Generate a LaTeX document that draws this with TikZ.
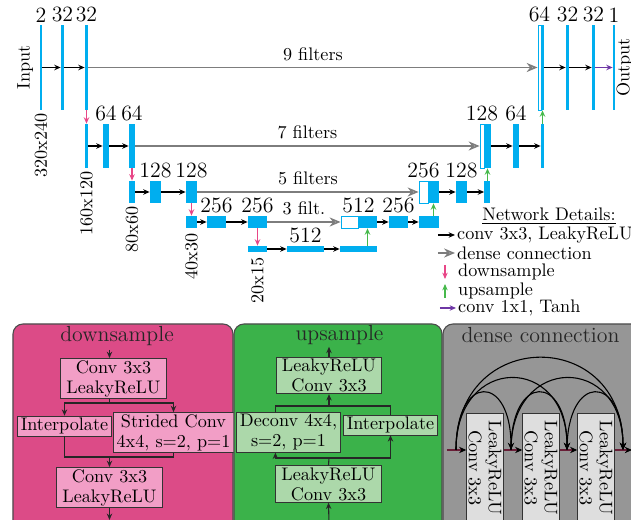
\documentclass[tikz,border=0pt]{standalone}
\usetikzlibrary{arrows.meta}

\definecolor{barblue}{RGB}{0,174,239}
\definecolor{dsred}{RGB}{232,70,135}
\definecolor{usgreen}{RGB}{70,185,75}
\definecolor{tanhpurple}{RGB}{110,55,165}
\definecolor{densegray}{RGB}{125,125,125}
\definecolor{dspanel}{RGB}{220,75,135}
\definecolor{dsfill}{RGB}{242,158,198}
\definecolor{uspanel}{RGB}{59,178,74}
\definecolor{usfill}{RGB}{172,216,170}
\definecolor{dcpanel}{RGB}{150,150,150}
\definecolor{dcfill}{RGB}{222,222,222}
\definecolor{dcline}{RGB}{105,30,55}

\newlength\px
\setlength\px{0.55pt}

\tikzset{
  bar/.style 2 args={fill=barblue, inner sep=0pt, minimum width=#1\px, minimum height=#2\px},
  catbar/.style 2 args={bar={#1}{#2}, fill=white, draw=barblue, line width=0.5pt},
  num/.style={font=\large, inner sep=1pt},
  res/.style={rotate=90, anchor=east, inner sep=1.5pt},
  conv/.style={line width=0.6pt, -{Stealth[length=3.5pt,width=3pt]}},
  dense/.style={line width=0.8pt, densegray, -{Stealth[length=6pt,width=5pt,fill=densegray!50]}},
  down/.style={line width=0.6pt, dsred, -{Stealth[length=3.5pt,width=3pt]}},
  up/.style={line width=0.6pt, usgreen, -{Stealth[length=3.5pt,width=3pt]}},
  tanh/.style={line width=0.6pt, tanhpurple, -{Stealth[length=3.5pt,width=3pt]}},
  filt/.style={midway, above, text=black},
  panel/.style={draw=black!70, line width=0.6pt, rounded corners=5.5pt},
  ptitle/.style={font=\large, text=black!85},
  blk/.style={align=center, inner xsep=2pt, inner ysep=1pt, font=\fontsize{10pt}{11pt}\selectfont},
  wide/.style={minimum width=58pt},
  dsblk/.style={blk, draw=black!80, fill=dsfill},
  usblk/.style={blk, draw=black!80, fill=usfill},
  dcblk/.style={blk, draw=black!80, fill=dcfill, rotate=-90, minimum width=60pt, minimum height=20pt},
  link/.style={line width=0.6pt, draw=black!85},
  linkto/.style={link, -{Stealth[length=3.5pt,width=3pt]}},
  dcl/.style={line width=0.6pt, dcline, -{Stealth[length=4pt,width=3.5pt,color=black]}},
  arc/.style={line width=0.6pt, -{Stealth[length=4pt,width=3.5pt]}}
}

\begin{document}
\begin{tikzpicture}[x=0.55pt, y=-0.55pt]
  \useasboundingbox (0,0) rectangle (631,520);

  % level 1
  \node[bar={2}{85}, label={[num]above:2}] (in) at (41,67.5) {};
  \node[bar={3}{85}, label={[num]above:32}] (c1a) at (62.5,67.5) {};
  \node[bar={3}{85}, label={[num]above:32}] (c1b) at (86.5,67.5) {};
  \node[catbar={3}{85}] (u1o) at (539.5,67.5) {};
  \node[bar={3}{85}] (u1b) at (542.5,67.5) {};
  \node[bar={3}{85}, label={[num]above:32}] (u1c) at (567.5,67.5) {};
  \node[bar={3}{85}, label={[num]above:32}] (u1d) at (593.5,67.5) {};
  \node[bar={2}{85}, label={[num]above:1}] (out) at (614,67.5) {};
  \node[num, above] (t1) at (u1o.north) {64};
  \node[rotate=90, anchor=south] (inlbl) at (in.west) {Input};
  \node[rotate=90, anchor=north, inner sep=0.5pt] (outlbl) at (out.east) {Output};

  % level 2
  \node[bar={3}{44}] (d2a) at (86.5,146) {};
  \node[bar={6}{44}, label={[num]above:64}] (d2b) at (106,146) {};
  \node[bar={6}{44}, label={[num]above:64}] (d2c) at (132,146) {};
  \node[catbar={4}{44}] (u2o) at (482,146) {};
  \node[bar={7}{44}] (u2b) at (487.5,146) {};
  \node[bar={6}{44}, label={[num]above:64}] (u2c) at (516,146) {};
  \node[bar={3}{44}] (u2d) at (542.5,146) {};
  \node[num, above] (t2) at (u2o.north) {128};

  % level 3
  \node[bar={6}{22}] (d3a) at (132,192) {};
  \node[bar={11}{22}, label={[num]above:128}] (d3b) at (155.5,192) {};
  \node[bar={11}{22}, label={[num]above:128}] (d3c) at (191.5,192) {};
  \node[catbar={9}{22}] (u3o) at (423.5,192) {};
  \node[bar={11}{22}] (u3b) at (433.5,192) {};
  \node[bar={11}{22}, label={[num]above:128}] (u3c) at (461.5,192) {};
  \node[bar={6}{22}] (u3d) at (487.5,192) {};
  \node[num, above] (t3) at (u3o.north) {256};

  % level 4
  \node[bar={11}{12}] (d4a) at (191.5,222) {};
  \node[bar={19}{12}, label={[num]above:256}] (d4b) at (216.5,222) {};
  \node[bar={19}{12}, label={[num]above:256}] (d4c) at (257.5,222) {};
  \node[catbar={17}{12}] (u4o) at (349.5,222) {};
  \node[bar={19}{12}] (u4b) at (367.5,222) {};
  \node[bar={19}{12}, label={[num]above:256}] (u4c) at (398.5,222) {};
  \node[bar={20}{12}] (u4d) at (429,222) {};
  \node[num, above] (t4) at (u4o.north east) {512};

  % level 5
  \node[bar={19}{6}] (d5a) at (257.5,249) {};
  \node[bar={37}{6}, label={[num]above:512}] (d5b) at (305.5,249) {};
  \node[bar={37}{6}] (u5) at (358.5,249) {};

  % resolutions
  \node[res] (r1) at (in.south) {320x240};
  \node[res] (r2) at (d2a.south) {160x120};
  \node[res] (r3) at (d3a.south) {80x60};
  \node[res, inner sep=2.5pt] (r4) at (d4a.south) {40x30};
  \node[res, inner sep=2.5pt] (r5) at (d5a.south) {20x15};

  % arrows
  \draw[conv] (in) -- (c1a);
  \draw[conv] (c1a) -- (c1b);
  \draw[dense] (c1b) -- (u1o) node[filt] (f1) {9 filters};
  \draw[conv] (u1b) -- (u1c);
  \draw[conv] (u1c) -- (u1d);
  \draw[tanh] (u1d) -- (out);

  \draw[down] (c1b) -- (d2a);
  \draw[conv] (d2a) -- (d2b);
  \draw[conv] (d2b) -- (d2c);
  \draw[dense] (d2c) -- (u2o) node[filt] (f2) {7 filters};
  \draw[conv] (u2b) -- (u2c);
  \draw[conv] (u2c) -- (u2d);
  \draw[up] (u2d) -- (u1b);

  \draw[down] (d2c) -- (d3a);
  \draw[conv] (d3a) -- (d3b);
  \draw[conv] (d3b) -- (d3c);
  \draw[dense] (d3c) -- (u3o) node[filt] (f3) {5 filters};
  \draw[conv] (u3b) -- (u3c);
  \draw[conv] (u3c) -- (u3d);
  \draw[up] (u3d) -- (u2b);

  \draw[down] (d3c) -- (d4a);
  \draw[conv] (d4a) -- (d4b);
  \draw[conv] (d4b) -- (d4c);
  \draw[dense] (d4c) -- (u4o) node[filt] (f4) {3 filt.};
  \draw[conv] (u4b) -- (u4c);
  \draw[conv] (u4c) -- (u4d);
  \draw[up] (u4d.north -| u3b.south) -- (u3b.south);

  \draw[down] (d4c) -- (d5a);
  \draw[conv] (d5a) -- (d5b);
  \draw[conv] (d5b) -- (u5);
  \draw[up] (u5.north -| u4b.south) -- (u4b.south);

  % legend
  \node (lg0) at (549,216) {\underline{Network Details:}};
  \node[anchor=west, inner sep=1pt] (lg1) at (455,235) {conv 3x3, LeakyReLU};
  \node[anchor=west, inner sep=1pt] (lg2) at (455,253) {dense connection};
  \node[anchor=west, inner sep=1pt] (lg3) at (456,272) {downsample};
  \node[anchor=west, inner sep=1pt] (lg4) at (456,291) {upsample};
  \node[anchor=west, inner sep=1pt] (lg5) at (456,308) {conv 1x1, Tanh};
  \draw[conv] (lg1.west) ++(-17,0) -- (lg1.west);
  \draw[dense] (lg2.west) ++(-17,0) -- (lg2.west);
  \draw[down] (lg3.west) ++(-11,-7) -- ++(0,14);
  \draw[up] (lg4.west) ++(-11,7) -- ++(0,-14);
  \draw[tanh] (lg5.west) ++(-16,0) -- (lg5.west);

  % downsample panel
  \draw[panel, fill=dspanel] (13,324) rectangle (233,540);
  \node[ptitle] (dstitle) at (117,336) {downsample};
  \node[dsblk, wide] (ds1) at (113.5,378.5) {Conv 3x3\\LeakyReLU};
  \node[dsblk] (ds2) at (64.5,426) {Interpolate};
  \node[dsblk] (ds3) at (173.5,432.5) {Strided Conv\\4x4, s=2, p=1};
  \node[dsblk, wide] (ds4) at (109.5,487.5) {Conv 3x3\\LeakyReLU};
  \coordinate (dsa) at (109.5,350);
  \coordinate (dsb) at (109.5,403);
  \coordinate (dsc) at (109.5,457);
  \draw[linkto] (dsa) -- (dsa |- ds1.north);
  \draw[link] (dsb |- ds1.south) -- (dsb);
  \draw[linkto] (dsb) -| (ds2.north);
  \draw[linkto] (dsb) -| (ds3.north);
  \draw[link] (ds2.south) |- (dsc);
  \draw[link] (ds3.south) |- (dsc);
  \draw[linkto] (dsc) -- (ds4.north);
  \draw[linkto] (ds4.south) -- ++(0,12);

  % upsample panel
  \draw[panel, fill=uspanel] (234,324) rectangle (442,540);
  \node[ptitle] (ustitle) at (339.5,335) {upsample};
  \node[usblk, wide] (us1) at (329,375.5) {LeakyReLU\\Conv 3x3};
  \node[usblk] (us2) at (288.5,432.5) {Deconv 4x4,\\s=2, p=1};
  \node[usblk] (us3) at (390.5,425) {Interpolate};
  \node[usblk, wide] (us4) at (328.5,484) {LeakyReLU\\Conv 3x3};
  \coordinate (usa) at (329,406);
  \coordinate (usb) at (329,458);
  \coordinate (usc) at (329,522);
  \draw[linkto] (us1.north) -- ++(0,-10);
  \draw[link] (us2.north -| us1.west) |- (us3.north |- usa) -- (us3.north);
  \draw[linkto] (usa) -- (us1.south);
  \draw[link] (us4.north) -- (usb);
  \draw[linkto] (usb) -| (us2.south -| us4.west);
  \draw[linkto] (usb) -| (us3.south);
  \draw[linkto] (usc) -- (us4.south);

  % dense connection panel
  \draw[panel, fill=dcpanel] (443,324) rectangle (650,540);
  \node[ptitle] (dctitle) at (540.5,335) {dense connection};
  \node[dcblk] (dc1) at (485,468) {LeakyReLU\\Conv 3x3};
  \node[dcblk] (dc2) at (541,468) {LeakyReLU\\Conv 3x3};
  \node[dcblk] (dc3) at (596,468) {LeakyReLU\\Conv 3x3};
  \coordinate (dcin) at (447,450);
  \coordinate (dcout) at (632,450);
  \coordinate (dca) at (456,450);
  \coordinate (dcb) at (511,450);
  \coordinate (dcc) at (567,450);
  \coordinate (dcd) at (623,450);
  \draw[dcl] (dcin) -- (dcin -| dc1.south);
  \draw[dcl] (dcin -| dc1.north) -- (dcin -| dc2.south);
  \draw[dcl] (dcin -| dc2.north) -- (dcin -| dc3.south);
  \draw[dcl] (dcin -| dc3.north) -- (dcout);
  \draw[arc] (dca) .. controls +(0,-77) and +(0,-77) .. (dcb);
  \draw[arc] (dca) .. controls +(0,-96) and +(0,-96) .. (dcc);
  \draw[arc] (dca) .. controls +(0,-123) and +(0,-123) .. (dcd);
  \draw[arc] (dcb) .. controls +(0,-77) and +(0,-77) .. (dcc);
  \draw[arc] (dcb) .. controls +(0,-96) and +(0,-96) .. (dcd);
  \draw[arc] (dcc) .. controls +(0,-77) and +(0,-77) .. (dcd);
\end{tikzpicture}
\end{document}
